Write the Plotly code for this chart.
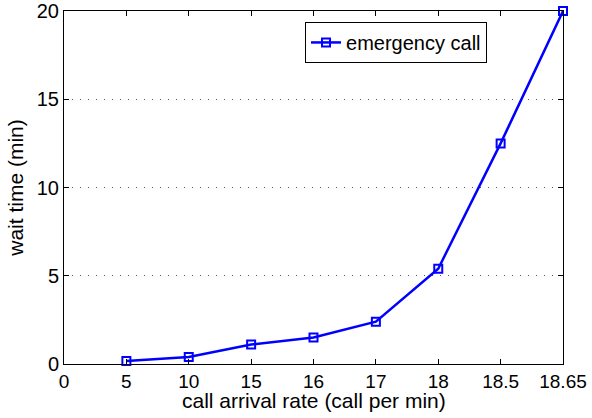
import plotly.graph_objects as go

categories = ["0", "5", "10", "15", "16", "17", "18", "18.5", "18.65"]
rates = ["5", "10", "15", "16", "17", "18", "18.5", "18.65"]
wait_time = [0.17, 0.4, 1.1, 1.5, 2.4, 5.4, 12.5, 20.0]
y_ticks = [0, 5, 10, 15, 20]
x_title = "call arrival rate (call per min)"
y_title = "wait time (min)"

fig = go.Figure()
fig.add_trace(go.Scatter(
    x=rates, y=wait_time, mode="lines+markers", name="emergency call",
    line=dict(color="#0000ff", width=2.5),
    marker=dict(symbol="square-open", size=8, color="#0000ff", line=dict(width=2, color="#0000ff")),
    cliponaxis=False,
))

fam = "Liberation Sans, Arial, sans-serif"
fig.update_layout(
    width=592, height=418,
    margin=dict(l=64, r=29, t=11, b=54),
    paper_bgcolor="white", plot_bgcolor="white",
    font=dict(family=fam, size=20, color="black"),
    showlegend=True,
    legend=dict(x=0.483, y=0.969, xanchor="left", yanchor="top",
                bgcolor="white", bordercolor="black", borderwidth=1,
                font=dict(family=fam, size=20, color="black"),
                tracegroupgap=0),
    xaxis=dict(
        type="category", categoryorder="array", categoryarray=categories,
        range=[0, 8], showgrid=False, zeroline=False, automargin=False,
        showline=True, linecolor="black", linewidth=1, mirror="ticks",
        ticks="inside", ticklen=5, tickcolor="black",
        tickfont=dict(family=fam, size=19), ticklabeloverflow="allow",
    ),
    yaxis=dict(
        range=[0, 20], tickvals=y_ticks, showgrid=True, gridcolor="#555555",
        griddash="1px,7px", gridwidth=1,
        zeroline=False, automargin=False,
        showline=True, linecolor="black", linewidth=1, mirror="ticks",
        ticks="inside", ticklen=5, tickcolor="black",
        tickfont=dict(family=fam, size=20), ticklabeloverflow="allow",
        title=dict(text=y_title, font=dict(family=fam, size=21), standoff=7),
    ),
    annotations=[dict(
        text=x_title, xref="paper", yref="paper", x=0.5, y=-0.104,
        xanchor="center", yanchor="middle", showarrow=False, borderpad=0,
        font=dict(family=fam, size=21, color="black"),
    )],
)
fig.write_html("out.html", config={"displayModeBar": False},
               post_script="document.body.style.margin='0';")
